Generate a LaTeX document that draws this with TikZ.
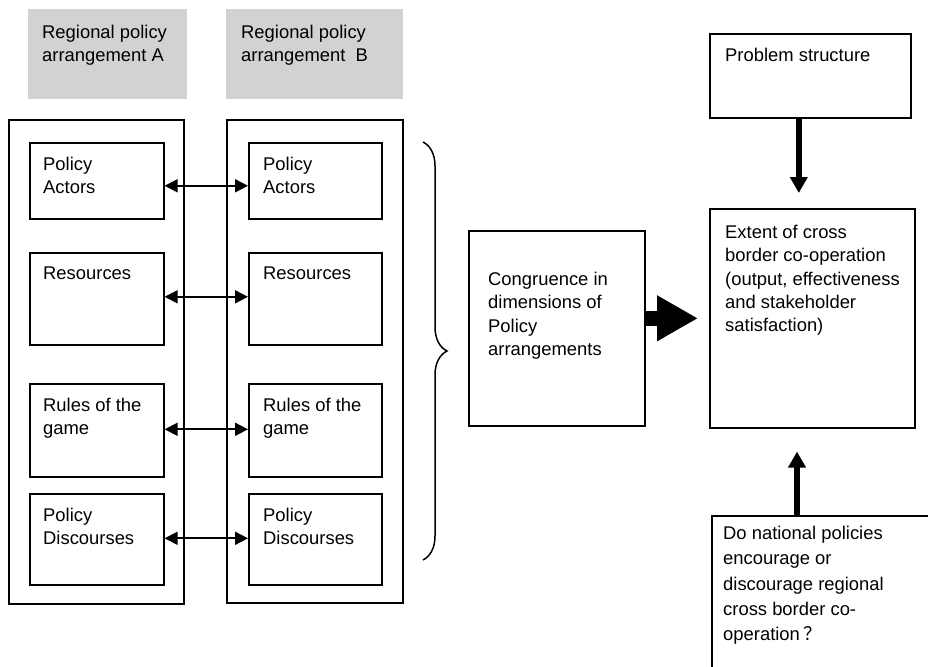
\documentclass[tikz,border=0pt]{standalone}
\usepackage{fontspec}
\setmainfont{Liberation Sans}
\newfontfamily\cjk{Noto Sans CJK SC}
\usetikzlibrary{arrows.meta,decorations.pathreplacing}
\tikzset{
  box/.style={draw, line width=1.6pt, anchor=north west, inner sep=0pt},
  greybox/.style={fill=gray!35, anchor=north west, inner sep=0pt},
  txt/.style={anchor=north west, inner sep=0pt, align=left, font=\fontsize{18.4}{23.3}\selectfont},
  biarrow/.style={{Triangle[length=13pt,width=13pt]}-{Triangle[length=13pt,width=13pt]}, line width=1.8pt},
  fatarrow/.style={-{Triangle[length=16pt,width=17pt]}, line width=5.5pt},
}
\begin{document}
\begin{tikzpicture}[x=1pt, y=-1pt]
    \useasboundingbox (0,0) rectangle (928,666);
    \clip (0,0) rectangle (928,666);
    % the two arrangements
    \node[greybox, minimum width=159pt, minimum height=90pt] (hA) at (28,9) {};
    \node[greybox, minimum width=177pt, minimum height=90pt] (hB) at (226,9) {};
    \node[txt] (hAt) at ([shift={(14pt,-16pt)}]hA.north west) {Regional policy\\arrangement A};
    \node[txt] (hBt) at ([shift={(15pt,-16pt)}]hB.north west) {Regional policy\\arrangement\ \ B};
    \node[box, minimum width=175pt, minimum height=484pt] (outA) at (8,119) {};
    \node[box, minimum width=176pt, minimum height=483pt] (outB) at (226,119) {};
    \foreach \nm/\top/\h/\dy/\lbl in {act/142/76/5/{Policy\\Actors}, res/252/92/-2/Resources, rul/383/93/-1/{Rules of the\\game}, dis/493/91/-1/{Policy\\Discourses}}{
      \node[box, minimum width=134pt, minimum height=\h pt] (\nm A) at (29,\top) {};
      \node[box, minimum width=133pt, minimum height=\h pt] (\nm B) at (248,\top) {};
      \node[txt] (\nm At) at ([shift={(14pt,-15pt)}]\nm A.north west) {\lbl};
      \node[txt] (\nm Bt) at ([shift={(15pt,-15pt)}]\nm B.north west) {\lbl};
      \draw[biarrow] ([yshift=-\dy pt]\nm A.east) -- ([yshift=-\dy pt]\nm B.west);
    }
    % brace
    \coordinate (brtop) at (423,142);
    \coordinate (brbot) at (423,560);
    \draw[line width=1.5pt, decorate, decoration={brace, amplitude=24pt}] (brtop) -- (brbot);
    % right part
    \node[box, minimum width=176pt, minimum height=195pt] (cong) at (468,230) {};
    \node[txt] (congt) at ([shift={(20pt,-42pt)}]cong.north west) {Congruence in\\dimensions of\\Policy\\arrangements};
    \node[box, minimum width=201pt, minimum height=84pt] (prob) at (709,33) {};
    \node[txt] (probt) at ([shift={(16pt,-15pt)}]prob.north west) {Problem structure};
    \node[box, minimum width=205pt, minimum height=219pt] (ext) at (709,208) {};
    \node[txt] (extt) at ([shift={(16pt,-17pt)}]ext.north west) {Extent of cross\\border co-operation\\(output, effectiveness\\and stakeholder\\satisfaction)};
    \node[box, minimum width=260pt, minimum height=200pt] (nat) at (711,515) {};
    \node[txt, font=\fontsize{18.4}{25.3}\selectfont] (natt) at ([shift={(12pt,-11pt)}]nat.north west) {Do national policies\\encourage or\\discourage regional\\cross border co-\\operation\,{\cjk ？}};
    \draw[-{Triangle[length=41pt,width=43pt]}, line width=15pt, shorten >=11pt] (cong.east |- ext.west) -- (ext.west);
    \draw[fatarrow, shorten >=15pt] ([xshift=-11.5pt]prob.south) -- ([xshift=-11.5pt]prob.south |- ext.north);
    \draw[fatarrow, shorten >=23pt] ([xshift=86pt]nat.north west) -- ([xshift=86pt]nat.north west |- ext.south);
\end{tikzpicture}
\end{document}
